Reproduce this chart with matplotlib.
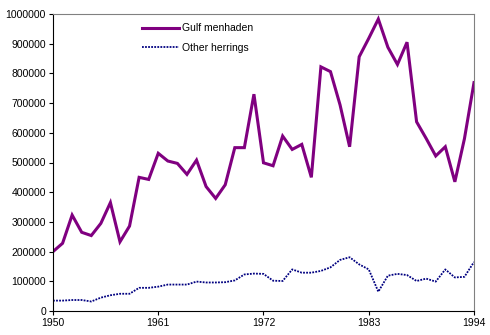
import numpy as np
import matplotlib
matplotlib.use('Agg')
import matplotlib.pyplot as plt

plt.rcParams['font.family'] = ['Liberation Sans', 'DejaVu Sans']

years = list(range(1950, 1995))

# Gulf menhaden catch
menhaden = [200000, 228000, 323000, 265000, 254000, 295000, 365000, 233000, 286000, 450000,
            443000, 531000, 505000, 497000, 460000, 508000, 419000, 379000, 425000, 550000,
            550000, 730000, 499000, 489000, 589000, 544000, 561000, 450000, 822000, 806000,
            694000, 553000, 856000, 918000, 983000, 888000, 830000, 905000, 637000, 581000,
            522000, 553000, 435000, 580000, 769000]

# other herrings
herrings = [35000, 35000, 37000, 37000, 32000, 45000, 53000, 58000, 58000, 78000,
            78000, 82000, 89000, 89000, 89000, 99000, 96000, 96000, 97000, 103000,
            123000, 126000, 125000, 102000, 101000, 140000, 129000, 129000, 135000, 147000,
            172000, 181000, 157000, 140000, 65000, 119000, 125000, 121000, 101000, 109000,
            99000, 140000, 113000, 115000, 165000]

xticks = [1950, 1961, 1972, 1983, 1994]

fig = plt.figure(figsize=(4.9, 3.35), dpi=100)
ax = fig.add_axes([53/490, 24/335, 421/490, 297/335])

ax.plot(years, menhaden, color='#800080', lw=2.2, label='Gulf menhaden', solid_joinstyle='miter')
ax.plot(years, herrings, color='#000080', lw=1.3, ls=(0, (1, 0.7)), label='Other herrings')

ax.set_xlim(1950, 1994)
ax.set_ylim(0, 1000000)
ax.set_xticks(xticks)
ax.set_yticks(np.arange(0, 1000001, 100000))
ax.set_yticklabels([str(v) for v in range(0, 1000001, 100000)])

ax.tick_params(axis='both', direction='out', length=3, width=0.8, labelsize=7.5, color='black', pad=2)

for s in ['top', 'right']:
    ax.spines[s].set_color('#808080')
for s in ['left', 'bottom']:
    ax.spines[s].set_color('black')
for s in ax.spines.values():
    s.set_linewidth(0.8)

ax.legend(loc='upper left', bbox_to_anchor=(0.19, 1.0), frameon=False, fontsize=7.5,
          handlelength=3.5, handletextpad=0.3, labelspacing=0.9)

fig.savefig('out.png', dpi=100)
